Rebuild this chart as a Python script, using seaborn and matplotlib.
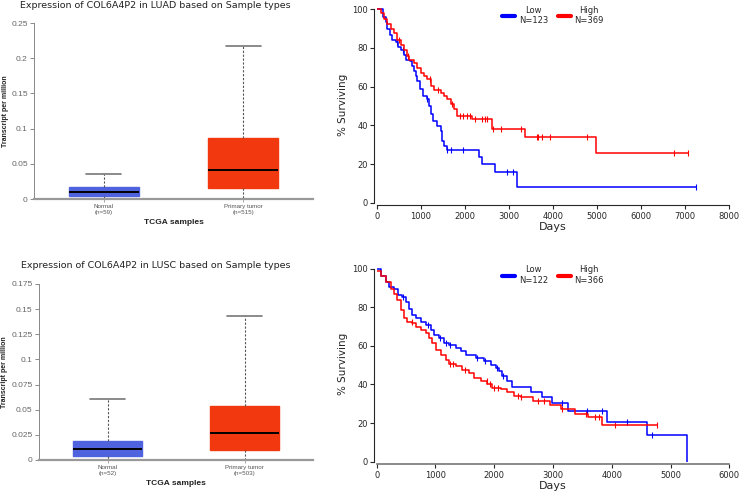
import numpy as np
import pandas as pd
import matplotlib
matplotlib.use("Agg")
import matplotlib.pyplot as plt
import seaborn as sns

# ---- box plot data: [min, q1, median, q3, max] ----
groups = ["Normal", "Primary tumor"]
luad_n = ["(n=59)", "(n=515)"]
lusc_n = ["(n=52)", "(n=503)"]
luad_normal = [0.0, 0.004, 0.0095, 0.017, 0.036]
luad_tumor = [0.0, 0.016, 0.041, 0.086, 0.217]
lusc_normal = [0.0, 0.004, 0.011, 0.019, 0.061]
lusc_tumor = [0.0, 0.0095, 0.027, 0.054, 0.143]
box_colors = ["#4F63DF", "#F2380F"]

# ---- Kaplan-Meier step curves (days, % surviving) ----
luad_low_t = [0, 150, 204, 241, 302, 355, 430, 483, 544, 620, 657, 755, 808, 846, 884, 922,
              983, 1058, 1134, 1187, 1240, 1285, 1376, 1451, 1489, 1527, 1588, 2322, 2398,
              2678, 3176, 7252]
luad_low_s = [100, 96, 93.5, 90, 86.7, 84.1, 83.3, 80.7, 79, 76.5, 73.8, 73, 70.5, 67.9, 65.4,
              62.8, 59, 55.1, 53.4, 50, 45.7, 42.3, 39.8, 37.2, 32.1, 29.5, 27, 23.6, 20.2,
              15.9, 7.9, 7.9]
luad_low_cens = [450, 600, 1150, 1605, 1680, 1968, 2967, 3089, 7252]

luad_high_t = [0, 90, 166, 241, 317, 392, 468, 544, 620, 681, 733, 846, 922, 998, 1073, 1149,
               1225, 1300, 1451, 1527, 1603, 1679, 1754, 1815, 2170, 2624, 3357, 4969, 7060]
luad_high_s = [100, 97.8, 95.2, 92.6, 90, 87.5, 84.1, 81.6, 79, 75.6, 73.9, 72.2, 69.6, 67,
               65.4, 63.7, 60.2, 58, 56.8, 55.1, 53.4, 50.9, 48.3, 44.9, 43.2, 38.1, 34, 25.5,
               25.5]
luad_high_cens = [500, 700, 1200, 1400, 1700, 1893, 1968, 2044, 2120, 2233, 2385, 2460, 2498,
                  2650, 2816, 3270, 3634, 3671, 3747, 3936, 4769, 6737, 7060]

lusc_low_t = [0, 67, 153, 209, 294, 362, 436, 493, 550, 607, 663, 748, 833, 918, 975, 1061,
              1145, 1230, 1344, 1429, 1514, 1684, 1826, 1940, 2025, 2082, 2138, 2223, 2309,
              2620, 2807, 2977, 3249, 3924, 4594, 5274]
lusc_low_s = [100, 96.4, 93, 90.4, 89.6, 86.2, 85.3, 82.8, 79.3, 75.9, 74.2, 72.5, 70.8, 68.2,
              65.6, 63.9, 61.4, 60.5, 58.8, 57.1, 55.4, 53.7, 52, 50.3, 48.6, 46.9, 44.3, 41.7,
              38.8, 36, 33.3, 30.2, 26.5, 20.8, 13.9, 0]
lusc_low_cens = [450, 880, 1080, 1180, 1250, 1700, 1850, 2050, 2150, 3158, 3572, 3839, 4253,
                 4690]

lusc_high_t = [0, 67, 153, 238, 294, 351, 408, 465, 521, 607, 663, 748, 833, 890, 947, 1003,
               1088, 1174, 1230, 1344, 1458, 1571, 1656, 1770, 1883, 1968, 2110, 2223, 2337,
               2450, 2654, 2949, 3136, 3374, 3601, 3828, 4764]
lusc_high_s = [99, 96.4, 93, 89.6, 87, 83.6, 78.5, 74.2, 72.5, 71.7, 70, 68.2, 66.5, 63.9, 61.4,
               58, 55.4, 52.9, 50.8, 49.4, 47.7, 46, 43.5, 41.8, 40.1, 38.4, 37.6, 35.9, 34.2,
               33.5, 31.6, 29.6, 27.4, 24.8, 23.1, 18.8, 18.8]
lusc_high_cens = [600, 1250, 1300, 1500, 1870, 1920, 2000, 2060, 2400, 2450, 2750, 2840, 3150,
                  3570, 3710, 3790, 4050, 4764]

km_colors = {"Low": "#0000FF", "High": "#FF0000"}

sns.set_style("ticks")
plt.rcParams["font.family"] = ["DejaVu Sans"]

fig = plt.figure(figsize=(7.4, 4.93), dpi=100)
W, H = 740, 493


def add_ax(x0, x1, ytop, ybot):
    return fig.add_axes([x0 / W, 1 - ybot / H, (x1 - x0) / W, (ybot - ytop) / H])


def draw_box(ax, normal, tumor, ns, ymax, yticks, ylab_x):
    df = pd.DataFrame({
        "group": [groups[0]] * len(normal) + [groups[1]] * len(tumor),
        "tpm": normal + tumor,
    })
    sns.boxplot(data=df, x="group", y="tpm", hue="group", palette=box_colors,
                saturation=1, whis=(0, 100), width=0.5, showfliers=False,
                linecolor="#555555", linewidth=1.0, legend=False, ax=ax,
                medianprops={"color": "black", "linewidth": 1.4},
                whiskerprops={"color": "#555555", "linestyle": (0, (2, 1.5)), "linewidth": 0.8},
                capprops={"color": "#777777", "linewidth": 1.2})
    for p in ax.patches:
        p.set_edgecolor(p.get_facecolor())
    ax.set_xlim(-0.5, 1.5)
    ax.set_ylim(0, ymax)
    ax.set_yticks(yticks)
    ax.set_yticklabels([f"{v:g}" for v in yticks])
    ax.set_xticks([0, 1])
    ax.set_xticklabels([f"{g}\n{n}" for g, n in zip(groups, ns)], fontsize=4.5,
                       color="#555555", fontfamily="Liberation Sans")
    ax.tick_params(axis="y", labelsize=6, colors="#777777", length=3, width=0.6, pad=1.5)
    ax.tick_params(axis="x", colors="#999999", length=2, width=0.6, pad=1.5)
    for lab in ax.get_yticklabels():
        lab.set_fontfamily("Liberation Sans")
        lab.set_color("#666666")
    for lab in ax.get_xticklabels():
        lab.set_color("#555555")
    ax.set_ylabel("Transcript per million", fontsize=5, fontweight="bold",
                  fontfamily="Liberation Sans", color="#222222")
    ax.yaxis.set_label_coords(ylab_x, 0.5)
    ax.set_xlabel("TCGA samples", fontsize=6, fontweight="bold",
                  fontfamily="Liberation Sans", color="#222222", labelpad=3)
    sns.despine(ax=ax)
    ax.spines["left"].set_color("#888888")
    ax.spines["left"].set_linewidth(0.7)
    ax.spines["bottom"].set_color("#999999")
    ax.spines["bottom"].set_linewidth(1.6)


def step_at(times, surv, pts):
    idx = np.searchsorted(times, pts, side="right") - 1
    return np.asarray(surv)[np.clip(idx, 0, len(surv) - 1)]


def draw_km(ax, curves, xmax, xtick_step):
    handles = []
    for name, t, s, cens, n in curves:
        col = km_colors[name]
        sns.lineplot(x=t, y=s, drawstyle="steps-post", color=col, linewidth=1.1,
                     estimator=None, sort=False, ax=ax)
        sns.scatterplot(x=cens, y=step_at(t, s, cens), marker="|", s=18, color=col,
                        linewidth=0.8, ax=ax)
        handles.append((plt.Line2D([], [], color=col, linewidth=3), f"{name}\nN={n}"))
    leg = ax.legend([h for h, _ in handles], [l for _, l in handles], loc="upper center",
                    bbox_to_anchor=(0.5, 1.045), ncol=2, frameon=False, fontsize=6,
                    handlelength=1.6, handletextpad=0.4, columnspacing=1.2,
                    labelspacing=0.1)
    for txt in leg.get_texts():
        txt.set_multialignment("center")
    ax.set_xlim(0, xmax)
    ax.set_ylim(0, 101)
    ax.set_xticks(np.arange(0, xmax + 1, xtick_step))
    ax.set_yticks(np.arange(0, 101, 20))
    ax.tick_params(labelsize=6, length=3, width=0.8, pad=1.5)
    ax.set_ylabel("% Surviving", fontsize=7.5, labelpad=3)
    ax.set_xlabel("Days", fontsize=8, labelpad=1)
    sns.despine(ax=ax, offset=2, trim=True)


# top-left: LUAD expression
ax1 = add_ax(34, 313, 23, 199)
draw_box(ax1, luad_normal, luad_tumor, luad_n, 0.25, [0, 0.05, 0.1, 0.15, 0.2, 0.25], -0.09)
fig.text(155.5 / W, 1 - 6 / H, "Expression of COL6A4P2 in LUAD based on Sample types",
         ha="center", va="center", fontsize=6.8, color="#222222")

# bottom-left: LUSC expression
ax3 = add_ax(39, 313, 284, 460)
draw_box(ax3, lusc_normal, lusc_tumor, lusc_n, 0.175,
         [0, 0.025, 0.05, 0.075, 0.1, 0.125, 0.15, 0.175], -0.113)
fig.text(156 / W, 1 - 265 / H, "Expression of COL6A4P2 in LUSC based on Sample types",
         ha="center", va="center", fontsize=6.8, color="#222222")

# top-right: LUAD survival
ax2 = add_ax(376.7, 729.3, 7.3, 202.7)
draw_km(ax2, [("Low", luad_low_t, luad_low_s, luad_low_cens, 123),
              ("High", luad_high_t, luad_high_s, luad_high_cens, 369)], 8000, 1000)

# bottom-right: LUSC survival
ax4 = add_ax(376.7, 729.3, 266.7, 461.7)
draw_km(ax4, [("Low", lusc_low_t, lusc_low_s, lusc_low_cens, 122),
              ("High", lusc_high_t, lusc_high_s, lusc_high_cens, 366)], 6000, 1000)
ax4.spines["bottom"].set_color("#777777")
ax4.spines["bottom"].set_linewidth(1.2)

fig.savefig("out.png", dpi=100)
